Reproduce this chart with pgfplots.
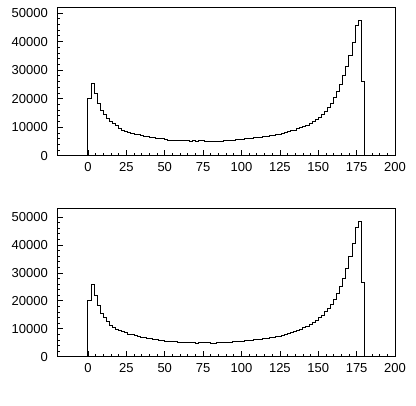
\documentclass[border=0pt]{standalone}
\usepackage{fontspec}
\setmainfont{Liberation Sans}
\usepackage{pgfplots}
\pgfplotsset{compat=1.18}

% two histograms, bins of width 2 from 0 to 180 (value at left edge)
\pgfplotsset{
  histo/.style={
    scale only axis, width=337.7pt, height=148.4pt,
    xmin=-20, xmax=200, ymin=0,
    xtick={0,25,...,200}, ytick={0,10000,...,50000},
    minor tick num=4,
    tick align=inside, xtick pos=bottom, ytick pos=left,
    major tick length=6pt, minor tick length=3pt,
    tick style={black, line width=0.7pt},
    axis line style={line width=0.9pt},
    scaled y ticks=false,
    font=\fontsize{13}{15}\selectfont,
    /pgf/number format/assume math mode=true,
    xticklabel style={yshift=-3.3pt},
    yticklabel style={xshift=-6pt, /pgf/number format/.cd, fixed, set thousands separator={}},
  },
  hline/.style={const plot, black, line width=1pt, mark=none},
}

\begin{document}
\begin{tikzpicture}
\path[use as bounding box] (0pt,0pt) rectangle (416pt,406pt);

\begin{axis}[histo, at={(57.3pt,250.3pt)}, anchor=south west, ymax=52000]
\addplot[hline] coordinates {
 (0,0) (0,20000) (2,25200) (4,21700) (6,18400) (8,15900) (10,14300)
 (12,12900) (14,12000) (16,11200) (18,10500) (20,9600) (22,9000)
 (24,8400) (26,8100) (28,7800) (30,7500) (32,7300) (34,7100) (36,6900)
 (38,6700) (40,6500) (42,6300) (44,6100) (46,6200) (48,5900) (50,5500)
 (52,5400) (54,5350) (56,5300) (58,5300) (60,5250) (62,5200) (64,5200)
 (66,4950) (68,5200) (70,5050) (72,5150) (74,5200) (76,4950) (78,5000)
 (80,4900) (82,4950) (84,5100) (86,5050) (88,5150) (90,5200) (92,5300)
 (94,5400) (96,5500) (98,5600) (100,5750) (102,5900) (104,6000)
 (106,6100) (108,6250) (110,6400) (112,6550) (114,6700) (116,6850)
 (118,7000) (120,7200) (122,7400) (124,7600) (126,7850) (128,8100)
 (130,8400) (132,8700) (134,9000) (136,9400) (138,9800) (140,10200)
 (142,10700) (144,11300) (146,11900) (148,12700) (150,13500) (152,14500)
 (154,15600) (156,16900) (158,18400) (160,20300) (162,22500) (164,25000)
 (166,28000) (168,31200) (170,35200) (172,39800) (174,45600) (176,47200)
 (178,26000) (180,0)
};
\end{axis}

\begin{axis}[histo, at={(57.3pt,49.3pt)}, anchor=south west, ymax=53100]
\addplot[hline] coordinates {
 (0,0) (0,20200) (2,26000) (4,21800) (6,18300) (8,15600) (10,14000)
 (12,12600) (14,11300) (16,10500) (18,9900) (20,9300) (22,8900)
 (24,8500) (26,8100) (28,7800) (30,7500) (32,7200) (34,6900) (36,6800)
 (38,6600) (40,6400) (42,6300) (44,6100) (46,5800) (48,5700) (50,5600)
 (52,5500) (54,5500) (56,5300) (58,5200) (60,5100) (62,5100) (64,5000)
 (66,5000) (68,4900) (70,4700) (72,4900) (74,5000) (76,5000) (78,4900)
 (80,4800) (82,4800) (84,4900) (86,5000) (88,5050) (90,5100) (92,5200)
 (94,5300) (96,5400) (98,5500) (100,5600) (102,5700) (104,5800)
 (106,5900) (108,6000) (110,6150) (112,6300) (114,6450) (116,6600)
 (118,6800) (120,7000) (122,7200) (124,7400) (126,7650) (128,7900)
 (130,8200) (132,8600) (134,9000) (136,9400) (138,9900) (140,10400)
 (142,10900) (144,11500) (146,12200) (148,13000) (150,13900) (152,14900)
 (154,16000) (156,17300) (158,18800) (160,20500) (162,22500) (164,25000)
 (166,28000) (168,31600) (170,35800) (172,40600) (174,46200) (176,48300)
 (178,26400) (180,0)
};
\end{axis}
\end{tikzpicture}
\end{document}
